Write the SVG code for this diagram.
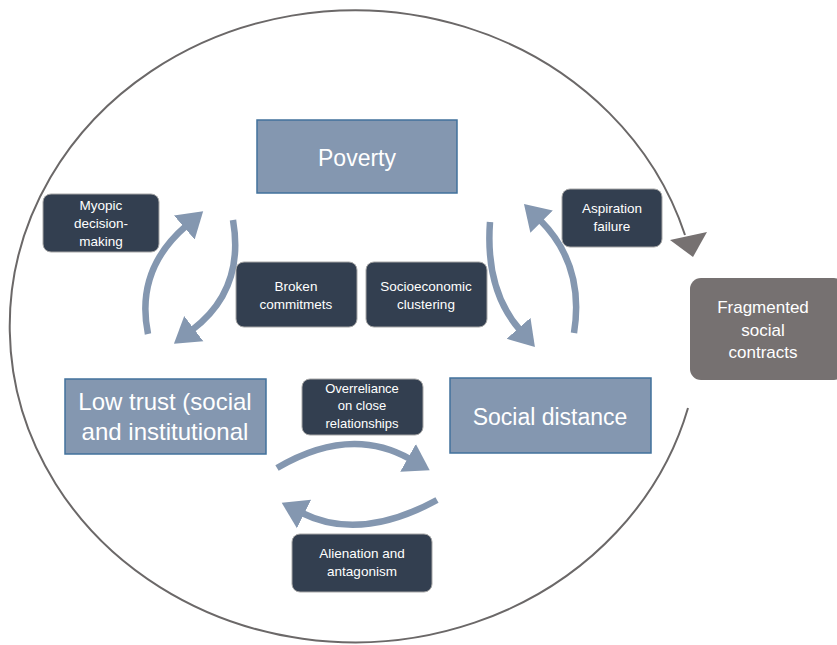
<svg xmlns="http://www.w3.org/2000/svg" width="837" height="645" viewBox="0 0 837 645">
<defs>
<style>
.main{fill:#8497b0;stroke:#41719c;stroke-width:1.5}
.dark{fill:#333f50;stroke:#a6a6a6;stroke-width:1}
.frag{fill:#767171}
.t{font-family:"Liberation Sans",Arial,sans-serif;fill:#fff;text-anchor:middle}
.big{font-size:23px}
.sm{font-size:13.5px}
.cyc{fill:none;stroke:#8497b0;stroke-width:6.5}
.ring{fill:none;stroke:#6b6868;stroke-width:2}
</style>
<marker id="ah" markerUnits="userSpaceOnUse" markerWidth="34" markerHeight="34" refX="2" refY="14" orient="auto" viewBox="0 0 30 28">
<path d="M0,0 L22,14 L0,28 z" fill="#8497b0"/>
</marker>
</defs>
<g id="connectors">
<path class="ring" d="M688,408 A345,316 0 1 1 685,235"/>
<polygon points="670,240 707,232 693,257" fill="#767171"/>
<path class="cyc" d="M148,334 Q135,270 186,226" marker-end="url(#ah)"/>
<path class="cyc" d="M233,220 Q245,290 192,330" marker-end="url(#ah)"/>
<path class="cyc" d="M490,222 Q485,290 520,330" marker-end="url(#ah)"/>
<path class="cyc" d="M574,333 Q585,265 540,220" marker-end="url(#ah)"/>
<path class="cyc" d="M277,468 Q350,425 410,459" marker-end="url(#ah)"/>
<path class="cyc" d="M437,500 Q360,542 302,513" marker-end="url(#ah)"/>
</g>
<g id="poverty">
<rect class="main" x="257" y="120" width="200" height="73"/>
<text class="t big" x="357" y="166">Poverty</text>
</g>
<g id="lowtrust">
<rect class="main" x="65" y="379" width="201" height="75"/>
<text class="t" style="font-size:24px" x="165" y="410">Low trust (social</text>
<text class="t" style="font-size:24px" x="165" y="440">and institutional</text>
</g>
<g id="socialdistance">
<rect class="main" x="450" y="378" width="201" height="75"/>
<text class="t big" x="550" y="425">Social distance</text>
</g>
<g id="fragmented">
<rect class="frag" x="690" y="278" width="155" height="102" rx="11"/>
<text class="t" style="font-size:17px" x="763" y="313">Fragmented</text>
<text class="t" style="font-size:17px" x="763" y="336">social</text>
<text class="t" style="font-size:17px" x="763" y="358">contracts</text>
</g>
<g id="myopic">
<rect class="dark" x="43" y="194" width="116" height="58" rx="8"/>
<text class="t sm" x="101" y="210">Myopic</text>
<text class="t sm" x="101" y="228">decision-</text>
<text class="t sm" x="101" y="246">making</text>
</g>
<g id="broken">
<rect class="dark" x="236" y="262" width="121" height="65" rx="8"/>
<text class="t sm" x="296" y="291">Broken</text>
<text class="t sm" x="296" y="309">commitmets</text>
</g>
<g id="socioeconomic">
<rect class="dark" x="366" y="262" width="121" height="65" rx="8"/>
<text class="t sm" x="426" y="291">Socioeconomic</text>
<text class="t sm" x="426" y="309">clustering</text>
</g>
<g id="aspiration">
<rect class="dark" x="562" y="189" width="100" height="58" rx="8"/>
<text class="t sm" x="612" y="213">Aspiration</text>
<text class="t sm" x="612" y="231">failure</text>
</g>
<g id="overreliance">
<rect class="dark" x="302" y="379" width="121" height="56" rx="8"/>
<text class="t" style="font-size:13px" x="362" y="393">Overreliance</text>
<text class="t" style="font-size:13px" x="362" y="410">on close</text>
<text class="t" style="font-size:13px" x="362" y="428">relationships</text>
</g>
<g id="alienation">
<rect class="dark" x="292" y="534" width="140" height="58" rx="8"/>
<text class="t sm" x="362" y="558">Alienation and</text>
<text class="t sm" x="362" y="576">antagonism</text>
</g>
</svg>
